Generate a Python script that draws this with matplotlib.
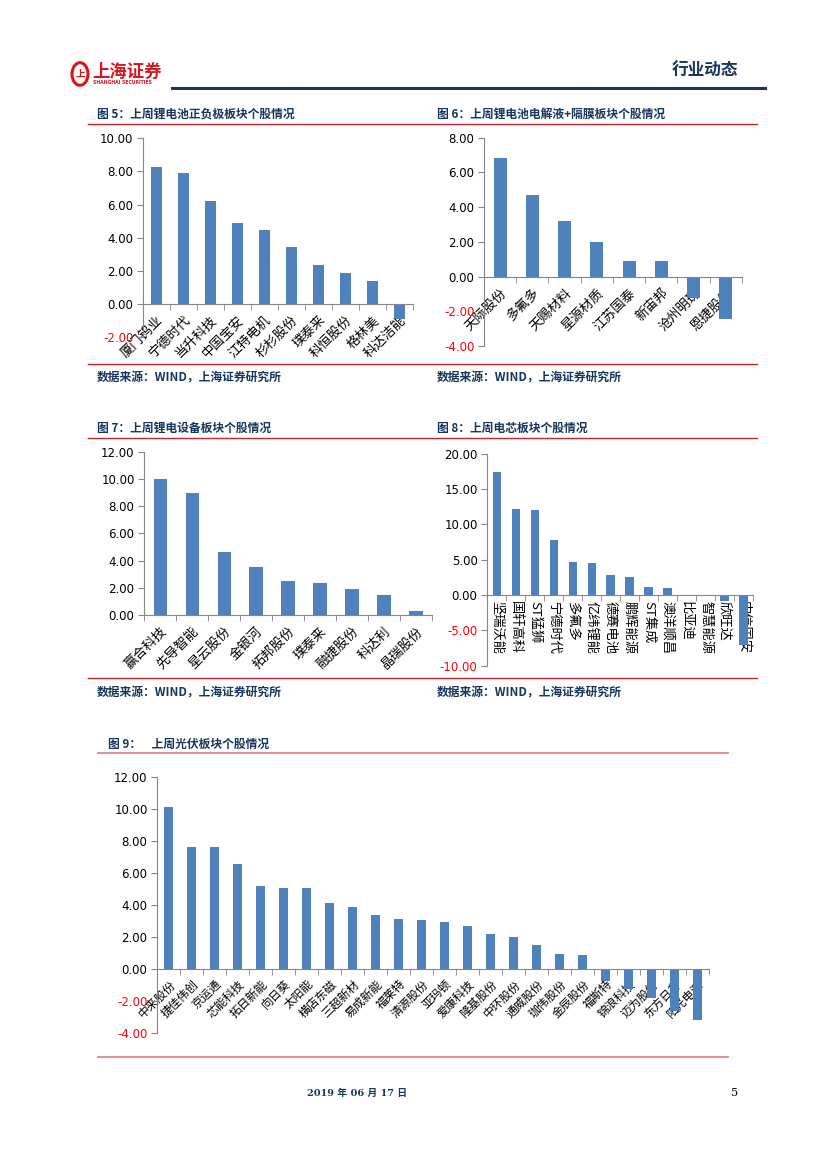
import matplotlib
matplotlib.use('Agg')
import matplotlib.pyplot as plt
from matplotlib.patches import Circle
from matplotlib.lines import Line2D
import numpy as np

plt.rcParams['font.family'] = ['Noto Sans CJK SC', 'DejaVu Sans']

# ---------------- data ----------------
c5_names = ['厦门钨业', '宁德时代', '当升科技', '中国宝安', '江特电机', '杉杉股份',
            '璞泰来', '科恒股份', '格林美', '科达洁能']
c5_vals = [8.28, 7.88, 6.21, 4.87, 4.49, 3.46, 2.33, 1.89, 1.39, -0.93]

c6_names = ['天际股份', '多氟多', '天赐材料', '星源材质', '江苏国泰', '新宙邦',
            '沧州明珠', '恩捷股份']
c6_vals = [6.83, 4.68, 3.21, 1.98, 0.92, 0.88, -1.25, -2.46]

c7_names = ['赢合科技', '先导智能', '星云股份', '金银河', '拓邦股份', '璞泰来',
            '融捷股份', '科达利', '晶瑞股份']
c7_vals = [10.0, 8.95, 4.63, 3.50, 2.52, 2.33, 1.89, 1.47, 0.29]

c8_names = ['坚瑞沃能', '国轩高科', 'ST猛狮', '宁德时代', '多氟多', '亿纬锂能',
            '德赛电池', '鹏辉能源', 'ST集成', '澳洋顺昌', '比亚迪', '智慧能源',
            '欣旺达', '中信国安']
c8_vals = [17.4, 12.17, 12.08, 7.83, 4.67, 4.53, 2.88, 2.59, 1.08, 0.94,
           0.02, -0.2, -0.8, -7.0]

c9_names = ['中来股份', '捷佳伟创', '京运通', '芯能科技', '拓日新能', '向日葵',
            '太阳能', '横店东磁', '三超新材', '易成新能', '福莱特', '清源股份',
            '亚玛顿', '爱康科技', '隆基股份', '中环股份', '通威股份', '珈伟股份',
            '金辰股份', '福斯特', '锦浪科技', '迈为股份', '东方日升', '阳光电源']
c9_vals = [10.12, 7.63, 7.59, 6.53, 5.20, 5.07, 5.03, 4.10, 3.85, 3.35, 3.14,
           3.06, 2.91, 2.72, 2.20, 2.02, 1.50, 0.96, 0.89, -0.73, -1.23,
           -1.81, -2.64, -3.16]

titles = ['图 5：上周锂电池正负极板块个股情况', '图 6：上周锂电池电解液+隔膜板块个股情况',
          '图 7：上周锂电设备板块个股情况', '图 8：上周电芯板块个股情况',
          '图 9：    上周光伏板块个股情况']
source = '数据来源：WIND，上海证券研究所'

# ---------------- style ----------------
W, H = 827, 1169
BLUE = '#4F81BD'
GRAY = '#868686'
NAVY = '#17365D'
RED = '#C0282D'
PINK = '#E88585'

fig = plt.figure(figsize=(W / 100, H / 100), dpi=100)


def box(x0, y0, x1, y1):
    return [x0 / W, 1 - y1 / H, (x1 - x0) / W, (y1 - y0) / H]


def hline(x0, x1, y, color, lw):
    fig.add_artist(Line2D([x0 / W, x1 / W], [1 - y / H, 1 - y / H], color=color,
                          lw=lw, transform=fig.transFigure))


def txt(x, y, s, **kw):
    fig.text(x / W, 1 - y / H, s, **kw)


def bar_chart(rect, names, vals, ylim, step, width, rot, lsize, pad):
    ax = fig.add_axes(rect)
    ax.patch.set_alpha(0)
    x = np.arange(len(names))
    ax.bar(x, vals, width=width, color=BLUE, zorder=2)
    ax.set_xlim(-0.5, len(names) - 0.5)
    ax.set_ylim(*ylim)
    ticks = np.arange(ylim[0], ylim[1] + step / 2, step)
    ax.set_yticks(ticks)
    ax.set_yticklabels([f'{t:.2f}' for t in ticks], fontfamily='DejaVu Sans', fontsize=8.5)
    for lab, t in zip(ax.get_yticklabels(), ticks):
        lab.set_color('#FF0000' if t < 0 else 'black')
    for s in ['top', 'right']:
        ax.spines[s].set_visible(False)
    ax.spines['bottom'].set_position(('data', 0))
    ax.spines['left'].set_color(GRAY)
    ax.spines['bottom'].set_color(GRAY)
    ax.set_xticks(x)
    ax.set_xticklabels(names, fontsize=lsize, color='black')
    ax.set_xticks(np.arange(len(names) + 1) - 0.5, minor=True)
    ax.tick_params(axis='x', which='major', length=0, pad=pad)
    ax.tick_params(axis='x', which='minor', length=4, color=GRAY, direction='out')
    ax.tick_params(axis='y', length=4, color=GRAY, direction='out', pad=3)
    for lab in ax.get_xticklabels():
        if rot == 45:
            lab.set_rotation(45)
            lab.set_ha('right')
            lab.set_va('top')
            lab.set_rotation_mode('anchor')
        else:
            lab.set_rotation(-90)
            lab.set_ha('center')
            lab.set_va('top')
    return ax


# ---------------- header ----------------
fig.add_artist(Circle((80 / W, 1 - 74 / H), 8 / W, transform=fig.transFigure,
                      facecolor='white', edgecolor='#D7161E', lw=2.2))
txt(80, 74, '上', color='#D7161E', fontsize=7, fontweight='bold', ha='center', va='center')
txt(92, 72, '上海证券', color='#D7161E', fontsize=12.5, fontweight='bold', va='center')
txt(93, 83, 'SHANGHAI SECURITIES', color='#D7161E', fontsize=3.3, fontweight='bold',
    va='center', family='DejaVu Sans')
hline(172, 765, 88, NAVY, 2.2)
txt(738, 71, '行业动态', color=NAVY, fontsize=12, fontweight='bold', ha='right', va='center')

# ---------------- panel frames ----------------
# row 1
txt(97, 114, titles[0], color=NAVY, fontsize=8.5, fontweight='bold', va='center')
txt(437, 114, titles[1], color=NAVY, fontsize=8.5, fontweight='bold', va='center')
hline(88, 757, 123.5, RED, 1.0)
hline(88, 757, 363.5, RED, 1.0)
txt(97, 378, source, color=NAVY, fontsize=8.5, fontweight='bold', va='center')
txt(437, 378, source, color=NAVY, fontsize=8.5, fontweight='bold', va='center')

# row 2
txt(97, 428, titles[2], color=NAVY, fontsize=8.5, fontweight='bold', va='center')
txt(437, 428, titles[3], color=NAVY, fontsize=8.5, fontweight='bold', va='center')
hline(88, 757, 437.5, RED, 1.0)
hline(88, 757, 677.5, RED, 1.0)
txt(97, 693, source, color=NAVY, fontsize=8.5, fontweight='bold', va='center')
txt(437, 693, source, color=NAVY, fontsize=8.5, fontweight='bold', va='center')

# row 3
txt(108, 744, titles[4], color=NAVY, fontsize=8.5, fontweight='bold', va='center')
hline(98, 728, 752.5, PINK, 1.3)
hline(98, 728, 1056.5, PINK, 1.3)

# ---------------- charts ----------------
bar_chart(box(143, 138.3, 413, 337), c5_names, c5_vals, (-2, 10), 2, 0.4, 45, 9.5, 7)
bar_chart(box(484, 137.7, 742, 346), c6_names, c6_vals, (-4, 8), 2, 0.41, 45, 9.5, 7)
bar_chart(box(144.3, 451.7, 432, 615), c7_names, c7_vals, (0, 12), 2, 0.42, 45, 9.5, 7)
bar_chart(box(487.3, 453.7, 753, 665.7), c8_names, c8_vals, (-10, 20), 5, 0.44, -90, 9.5, 4)
bar_chart(box(157.3, 776.7, 709.3, 1033.3), c9_names, c9_vals, (-4, 12), 2, 0.4, 45, 8.5, 6)

# ---------------- footer ----------------
txt(357, 1093, '2019 年 06 月 17 日', color=NAVY, fontsize=7, fontweight='bold',
    ha='center', va='center', family=['DejaVu Serif', 'Noto Sans CJK SC'])
txt(735, 1093, '5', color='black', fontsize=8, ha='center', va='center', family='DejaVu Serif')

fig.savefig('out.png', dpi=100)
